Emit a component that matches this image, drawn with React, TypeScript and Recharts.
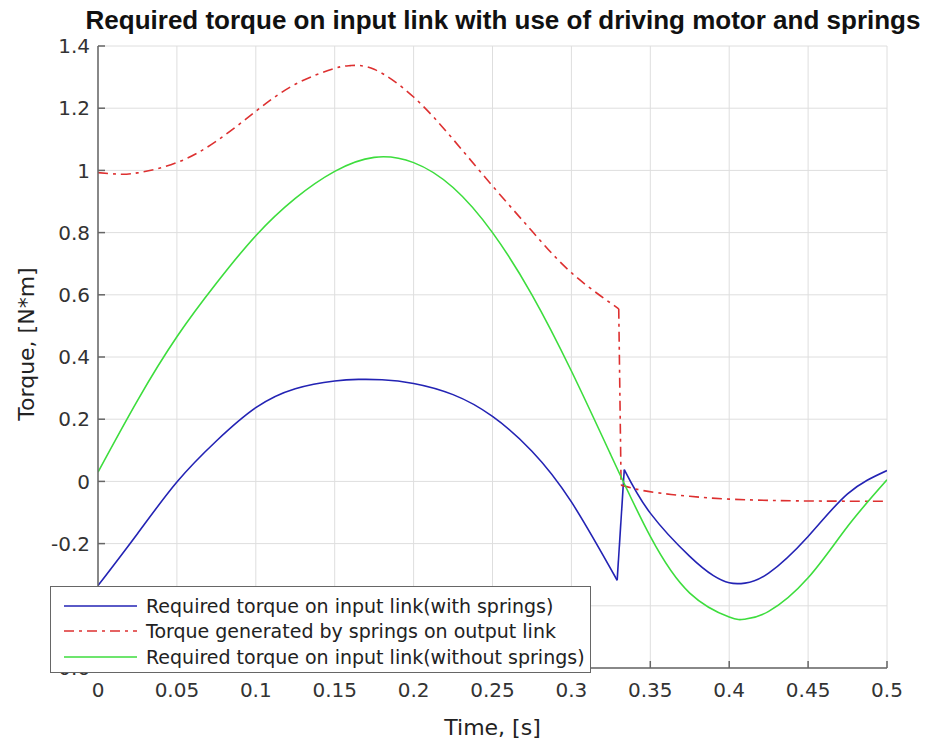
import React from 'react';
import { LineChart, Line, XAxis, YAxis, CartesianGrid, Label } from 'recharts';

const timeTicks = [0, 0.05, 0.1, 0.15, 0.2, 0.25, 0.3, 0.35, 0.4, 0.45, 0.5];
const torqueTicks = [-0.6, -0.4, -0.2, 0, 0.2, 0.4, 0.6, 0.8, 1, 1.2, 1.4];

// required torque with springs (blue): first lobe, jump, second lobe
const withSpringsT1 = [0, 0.025, 0.05, 0.075, 0.1, 0.125, 0.15, 0.165, 0.18, 0.2, 0.225, 0.25, 0.275, 0.3, 0.329];
const withSpringsV1 = [-0.335, -0.168, -0.002, 0.13, 0.237, 0.298, 0.323, 0.328, 0.327, 0.315, 0.279, 0.209, 0.097, -0.066, -0.318];
const withSpringsT2 = [0.329, 0.3335];
const withSpringsV2 = [-0.318, 0.038];
const withSpringsT3 = [0.3335, 0.35, 0.375, 0.39, 0.4, 0.41, 0.425, 0.45, 0.475, 0.5];
const withSpringsV3 = [0.038, -0.102, -0.241, -0.303, -0.326, -0.327, -0.295, -0.177, -0.04, 0.035];

// torque generated by springs (red dash-dot)
const springT1 = [0, 0.012, 0.025, 0.05, 0.075, 0.1, 0.125, 0.15, 0.16, 0.175, 0.2, 0.225, 0.25, 0.275, 0.3, 0.33];
const springV1 = [0.993, 0.988, 0.992, 1.025, 1.094, 1.19, 1.277, 1.328, 1.337, 1.325, 1.236, 1.1, 0.95, 0.805, 0.671, 0.555];
const springT2 = [0.33, 0.3315];
const springV2 = [0.555, -0.012];
const springT3 = [0.3315, 0.345, 0.36, 0.375, 0.4, 0.425, 0.45, 0.5];
const springV3 = [-0.012, -0.029, -0.04, -0.048, -0.057, -0.061, -0.063, -0.064];

// required torque without springs (green)
const noSpringsT = [0, 0.025, 0.05, 0.075, 0.1, 0.125, 0.15, 0.175, 0.2, 0.225, 0.25, 0.275, 0.3, 0.325, 0.35, 0.375, 0.4, 0.41, 0.425, 0.45, 0.475, 0.5];
const noSpringsV = [0.03, 0.26, 0.465, 0.637, 0.79, 0.91, 0.997, 1.042, 1.025, 0.945, 0.8, 0.6, 0.355, 0.085, -0.177, -0.359, -0.436, -0.443, -0.418, -0.31, -0.145, 0.005];

const legendItems = [
  { label: 'Required torque on input link(with springs)', color: '#2323b4', dash: '' },
  { label: 'Torque generated by springs on output link', color: '#dd3030', dash: '10 5 3 5' },
  { label: 'Required torque on input link(without springs)', color: '#3ddd3d', dash: '' },
];

const rows = (ts: number[], vs: number[]) => ts.map((t, i) => ({ t, v: vs[i] }));

const BLUE = '#2323b4';
const RED = '#dd3030';
const GREEN = '#3ddd3d';
const AXIS = '#666';
const TICK_FONT = { fontFamily: '"DejaVu Sans", sans-serif', fontSize: 20, fill: '#333' };

function BottomTick(props: any) {
  const { x, y, payload } = props;
  const axisY = y - 15;
  return (
    <g>
      <line x1={x} x2={x} y1={axisY} y2={axisY - 7} stroke={AXIS} strokeWidth={1.5} />
      <text x={x} y={y} dy="0.71em" textAnchor="middle" {...TICK_FONT}>{String(payload.value)}</text>
    </g>
  );
}

function LeftTick(props: any) {
  const { x, y, payload } = props;
  const axisX = x + 8;
  return (
    <g>
      <line x1={axisX} x2={axisX + 7} y1={y} y2={y} stroke={AXIS} strokeWidth={1.5} />
      <text x={x} y={y} dy="0.355em" textAnchor="end" {...TICK_FONT}>{String(payload.value)}</text>
    </g>
  );
}

function TopTick(props: any) {
  const { x, y } = props;
  return <line x1={x} x2={x} y1={y} y2={y + 7} stroke={AXIS} strokeWidth={1.5} />;
}

function RightTick(props: any) {
  const { x, y } = props;
  return <line x1={x} x2={x - 7} y1={y} y2={y} stroke={AXIS} strokeWidth={1.5} />;
}

function seg(key: string, data: any[], color: string, kind: 'natural' | 'linear', dash?: string) {
  return (
    <Line
      key={key}
      data={data}
      dataKey="v"
      xAxisId="b"
      yAxisId="l"
      type={kind}
      stroke={color}
      strokeWidth={1.6}
      strokeDasharray={dash}
      dot={false}
      activeDot={false}
      legendType="none"
      isAnimationActive={false}
    />
  );
}

export default function App() {
  return (
    <div style={{ position: 'relative', width: 935, height: 742, background: '#fff' }}>
      <style>{'body{margin:0}'}</style>
      <div
        style={{
          position: 'absolute', left: 0, width: 1006, top: 5, textAlign: 'center',
          fontFamily: '"Liberation Sans", Arial, sans-serif', fontWeight: 'bold', fontSize: 26,
          color: '#111', whiteSpace: 'nowrap', lineHeight: '30px',
        }}
      >
        Required torque on input link with use of driving motor and springs
      </div>
      <LineChart width={935} height={742} margin={{ top: 46, right: 48, left: 0, bottom: 0 }}>
        <CartesianGrid xAxisId="b" yAxisId="l" stroke="#dedede" strokeWidth={1} />
        <XAxis
          xAxisId="b" dataKey="t" type="number" domain={[0, 0.5]} ticks={timeTicks} interval={0}
          height={74} tickSize={0} tickMargin={15} tick={<BottomTick />}
          axisLine={{ stroke: AXIS, strokeWidth: 1.5 }} allowDataOverflow
        >
          <Label
            value="Time, [s]" position="insideBottom" offset={7}
            style={{ fontFamily: '"DejaVu Sans", sans-serif', fontSize: 22, fill: '#222' }}
          />
        </XAxis>
        <XAxis
          xAxisId="t" orientation="top" dataKey="t" type="number" domain={[0, 0.5]} ticks={timeTicks}
          interval={0} height={0} tickSize={0} tickMargin={0} tick={<TopTick />}
          axisLine={{ stroke: AXIS, strokeWidth: 1.5 }} allowDataOverflow
        />
        <YAxis
          yAxisId="l" type="number" domain={[-0.6, 1.4]} ticks={torqueTicks} interval={0}
          width={98} tickSize={0} tickMargin={8} tick={<LeftTick />}
          axisLine={{ stroke: AXIS, strokeWidth: 1.5 }} allowDataOverflow
        >
          <Label
            content={(p: any) => {
              const vb = p.viewBox;
              const cx = vb.x + 26;
              const cy = vb.y + vb.height / 2 - 13;
              return (
                <text
                  x={cx} y={cy} transform={`rotate(-90, ${cx}, ${cy})`} textAnchor="middle" dy="0.355em"
                  style={{ fontFamily: '"DejaVu Sans", sans-serif', fontSize: 22, fill: '#222' }}
                >
                  Torque, [N*m]
                </text>
              );
            }}
          />
        </YAxis>
        <YAxis
          yAxisId="r" orientation="right" type="number" domain={[-0.6, 1.4]} ticks={torqueTicks}
          interval={0} width={0} tickSize={0} tickMargin={0} tick={<RightTick />}
          axisLine={{ stroke: AXIS, strokeWidth: 1.5 }} allowDataOverflow
        />
        {seg('b1', rows(withSpringsT1, withSpringsV1), BLUE, 'natural')}
        {seg('b2', rows(withSpringsT2, withSpringsV2), BLUE, 'linear')}
        {seg('b3', rows(withSpringsT3, withSpringsV3), BLUE, 'natural')}
        {seg('r1', rows(springT1, springV1), RED, 'natural', '10 5 3 5')}
        {seg('r2', rows(springT2, springV2), RED, 'linear', '10 5 3 5')}
        {seg('r3', rows(springT3, springV3), RED, 'natural', '10 5 3 5')}
        {seg('g1', rows(noSpringsT, noSpringsV), GREEN, 'natural')}
      </LineChart>
      <div
        style={{
          position: 'absolute', left: 50, top: 586, width: 541, height: 87, background: '#fff',
          border: '1.5px solid #666', fontFamily: '"DejaVu Sans", sans-serif', fontSize: 19,
          color: '#222', paddingTop: 6, boxSizing: 'border-box',
        }}
      >
        {legendItems.map((it) => (
          <div key={it.label} style={{ display: 'flex', alignItems: 'center', height: 25.5, whiteSpace: 'nowrap' }}>
            <svg width={95} height={10} style={{ flex: 'none' }}>
              <line x1={13} x2={86} y1={5} y2={5} stroke={it.color} strokeWidth={1.6} strokeDasharray={it.dash || undefined} />
            </svg>
            <span>{it.label}</span>
          </div>
        ))}
      </div>
    </div>
  );
}
